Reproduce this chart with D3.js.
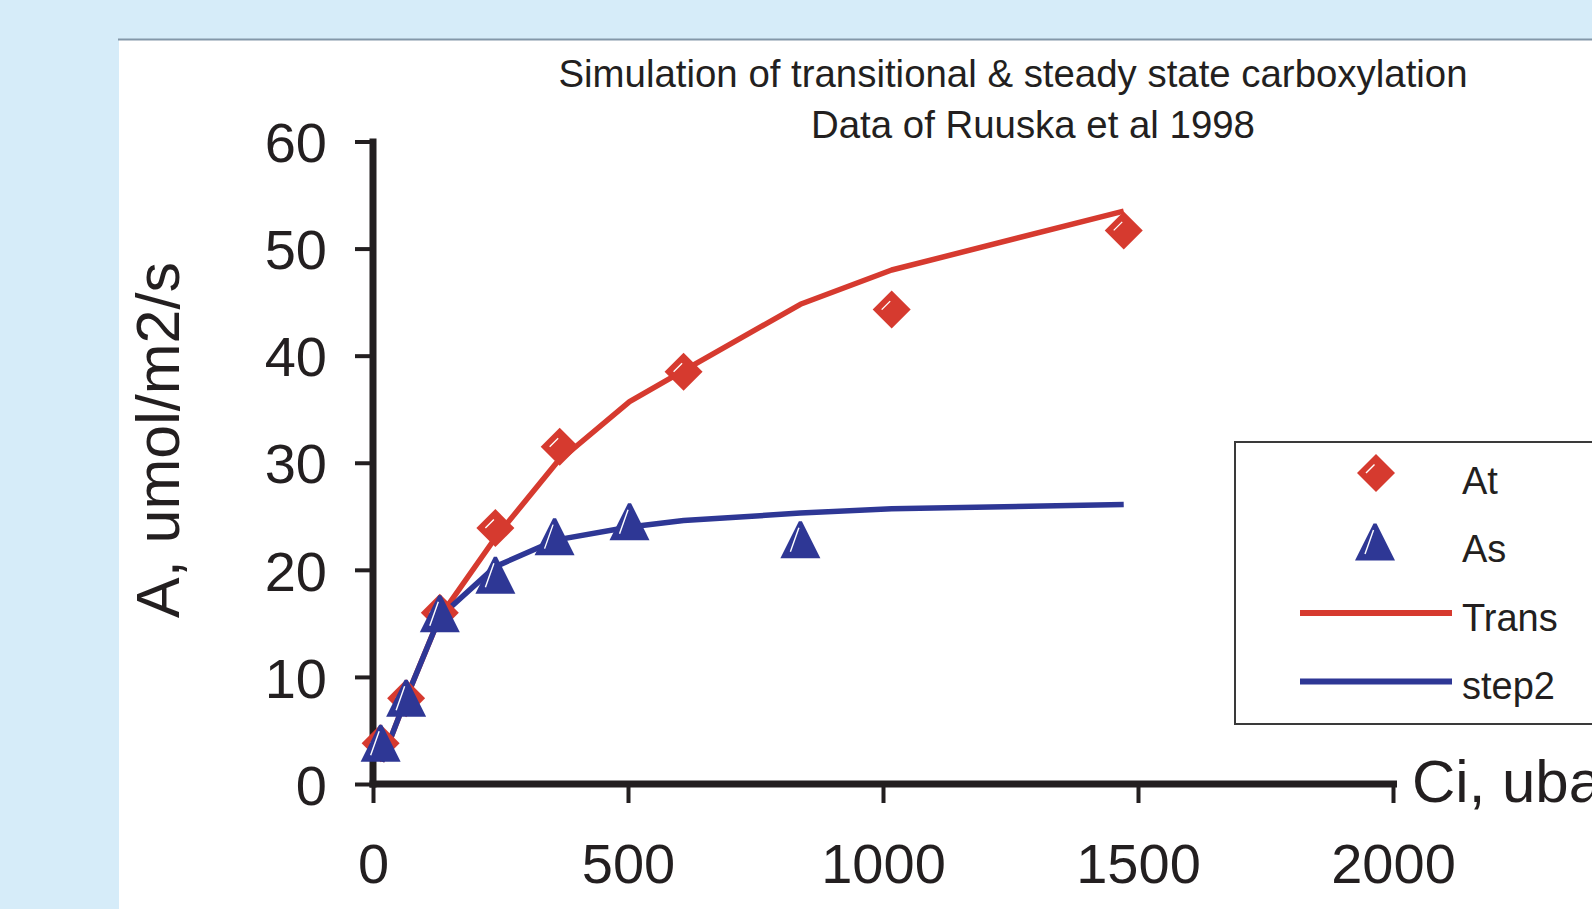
<!DOCTYPE html>
<html><head><meta charset="utf-8">
<script src="https://cdn.jsdelivr.net/npm/d3@7"></script>
<style>
html,body{margin:0;padding:0;background:#d6ecf9;}
svg{display:block;}
text{font-family:Arial,"Liberation Sans",sans-serif;fill:#231f20;}
</style></head>
<body>
<svg id="chart" width="1592" height="909"></svg>
<script>
// ---- data ----
const titleLines = ["Simulation of transitional & steady state carboxylation", "Data of Ruuska et al 1998"];
const xTicks = [0, 500, 1000, 1500, 2000];
const yTicks = [0, 10, 20, 30, 40, 50, 60];
const xTitle = "Ci, ubar";
const yTitle = "A, umol/m2/s";

const atCi = [15, 65, 131, 240, 366, 609, 1017, 1472];
const atA  = [3.8, 8.0, 16.0, 23.9, 31.5, 38.5, 44.3, 51.7];
const asCi = [15, 65, 131, 240, 356, 503, 838];
const asA  = [3.8, 8.0, 15.9, 19.5, 23.1, 24.5, 22.8];
const modelCi = [17, 65, 131, 240, 360, 503, 609, 838, 1017, 1472];
const transA  = [2.1, 8.0, 15.6, 23.0, 30.0, 35.7, 38.6, 44.8, 48.0, 53.5];
const step2A  = [2.1, 8.0, 15.6, 20.3, 22.8, 24.0, 24.6, 25.3, 25.7, 26.1];
const legendNames = ["At", "As", "Trans", "step2"];

const RED = "#d63a2f", BLUE = "#2e3795", INK = "#231f20";

const svg = d3.select("#chart");
// panel
svg.append("rect").attr("x", 0).attr("y", 0).attr("width", 1592).attr("height", 909).attr("fill", "#d6ecf9");
svg.append("rect").attr("x", 119).attr("y", 40).attr("width", 1473).attr("height", 869).attr("fill", "#ffffff");
svg.append("line").attr("x1", 118).attr("x2", 1592).attr("y1", 39.5).attr("y2", 39.5)
  .attr("stroke", "#8397a9").attr("stroke-width", 2);

const x = d3.scaleLinear().domain([0, 2000]).range([373, 1393]);
const y = d3.scaleLinear().domain([0, 60]).range([784, 141.5]);

// title
svg.append("text").attr("x", 1013).attr("y", 87).attr("text-anchor", "middle")
  .attr("font-size", 38.4).text(titleLines[0]);
svg.append("text").attr("x", 1033).attr("y", 138).attr("text-anchor", "middle")
  .attr("font-size", 38.4).text(titleLines[1]);

// y axis
const gy = svg.append("g").attr("transform", `translate(${x(0)},0)`)
  .call(d3.axisLeft(y).tickValues(yTicks).tickSize(18).tickSizeOuter(0).tickPadding(28).tickFormat(d3.format("d")));
gy.select(".domain").remove();
gy.selectAll(".tick line").attr("stroke", INK).attr("stroke-width", 4);
gy.selectAll(".tick text").attr("font-size", 56).attr("fill", INK)
  .attr("font-family", "Arial, 'Liberation Sans', sans-serif").attr("dy", "0.36em");

// x axis
const gx = svg.append("g").attr("transform", `translate(0,${y(0)})`)
  .call(d3.axisBottom(x).tickValues(xTicks).tickSize(19).tickSizeOuter(0).tickFormat(d3.format("d")));
gx.select(".domain").remove();
gx.selectAll(".tick line").attr("stroke", INK).attr("stroke-width", 4);
gx.selectAll(".tick text").attr("font-size", 56).attr("fill", INK)
  .attr("font-family", "Arial, 'Liberation Sans', sans-serif").attr("y", 99).attr("dy", 0);

// axis lines
svg.append("line").attr("x1", x(0)).attr("x2", x(0)).attr("y1", y(60) - 3).attr("y2", y(0) + 3.5)
  .attr("stroke", INK).attr("stroke-width", 7);
svg.append("line").attr("x1", x(0) - 3.5).attr("x2", x(2000) + 4).attr("y1", y(0)).attr("y2", y(0))
  .attr("stroke", INK).attr("stroke-width", 7);

// axis titles
svg.append("text").attr("x", 1412).attr("y", 802).attr("font-size", 60).text(xTitle);
svg.append("text").attr("transform", `translate(179,440) rotate(-90)`).attr("text-anchor", "middle")
  .attr("font-size", 61).text(yTitle);

// model lines
const line = d3.line().x(d => x(d[0])).y(d => y(d[1]));
const transPts = modelCi.map((c, i) => [c, transA[i]]);
const step2Pts = modelCi.map((c, i) => [c, step2A[i]]);
svg.append("path").attr("d", line(transPts)).attr("fill", "none").attr("stroke", RED)
  .attr("stroke-width", 5.5).attr("stroke-linejoin", "round");
svg.append("path").attr("d", line(step2Pts)).attr("fill", "none").attr("stroke", BLUE)
  .attr("stroke-width", 5.5).attr("stroke-linejoin", "round");

// marker shapes
function diamond(g) {
  g.append("path").attr("d", "M0,-19L19,0L0,19L-19,0Z").attr("fill", RED);
  g.append("line").attr("x1", -10).attr("y1", 0).attr("x2", -1.5).attr("y2", -8.5)
    .attr("stroke", "#ffffff").attr("stroke-width", 1.4);
}
function triangle(g) {
  g.append("path").attr("d", "M-1.5,-18.5L1.5,-18.5L20,18.5L-20,18.5Z").attr("fill", BLUE);
  g.append("line").attr("x1", -10).attr("y1", 12).attr("x2", -1.5).attr("y2", -12)
    .attr("stroke", "#ffffff").attr("stroke-width", 1.4);
}

atCi.forEach((c, i) => {
  const g = svg.append("g").attr("transform", `translate(${x(c)},${y(atA[i])})`);
  diamond(g);
});
asCi.forEach((c, i) => {
  const g = svg.append("g").attr("transform", `translate(${x(c)},${y(asA[i])})`);
  triangle(g);
});

// legend
svg.append("rect").attr("x", 1235).attr("y", 442).attr("width", 400).attr("height", 282)
  .attr("fill", "#ffffff").attr("stroke", "#3a3a3a").attr("stroke-width", 2);
const lg = svg.append("g");
const baselines = [494, 562, 631, 699];
diamond(lg.append("g").attr("transform", `translate(1376,${baselines[0] - 21})`));
triangle(lg.append("g").attr("transform", `translate(1375,${baselines[1] - 20})`));
lg.append("line").attr("x1", 1300).attr("x2", 1452).attr("y1", baselines[2] - 18).attr("y2", baselines[2] - 18)
  .attr("stroke", RED).attr("stroke-width", 6);
lg.append("line").attr("x1", 1300).attr("x2", 1452).attr("y1", baselines[3] - 17.5).attr("y2", baselines[3] - 17.5)
  .attr("stroke", BLUE).attr("stroke-width", 6);
legendNames.forEach((n, i) => {
  lg.append("text").attr("x", 1462).attr("y", baselines[i]).attr("font-size", 38).text(n);
});
</script>
</body></html>
